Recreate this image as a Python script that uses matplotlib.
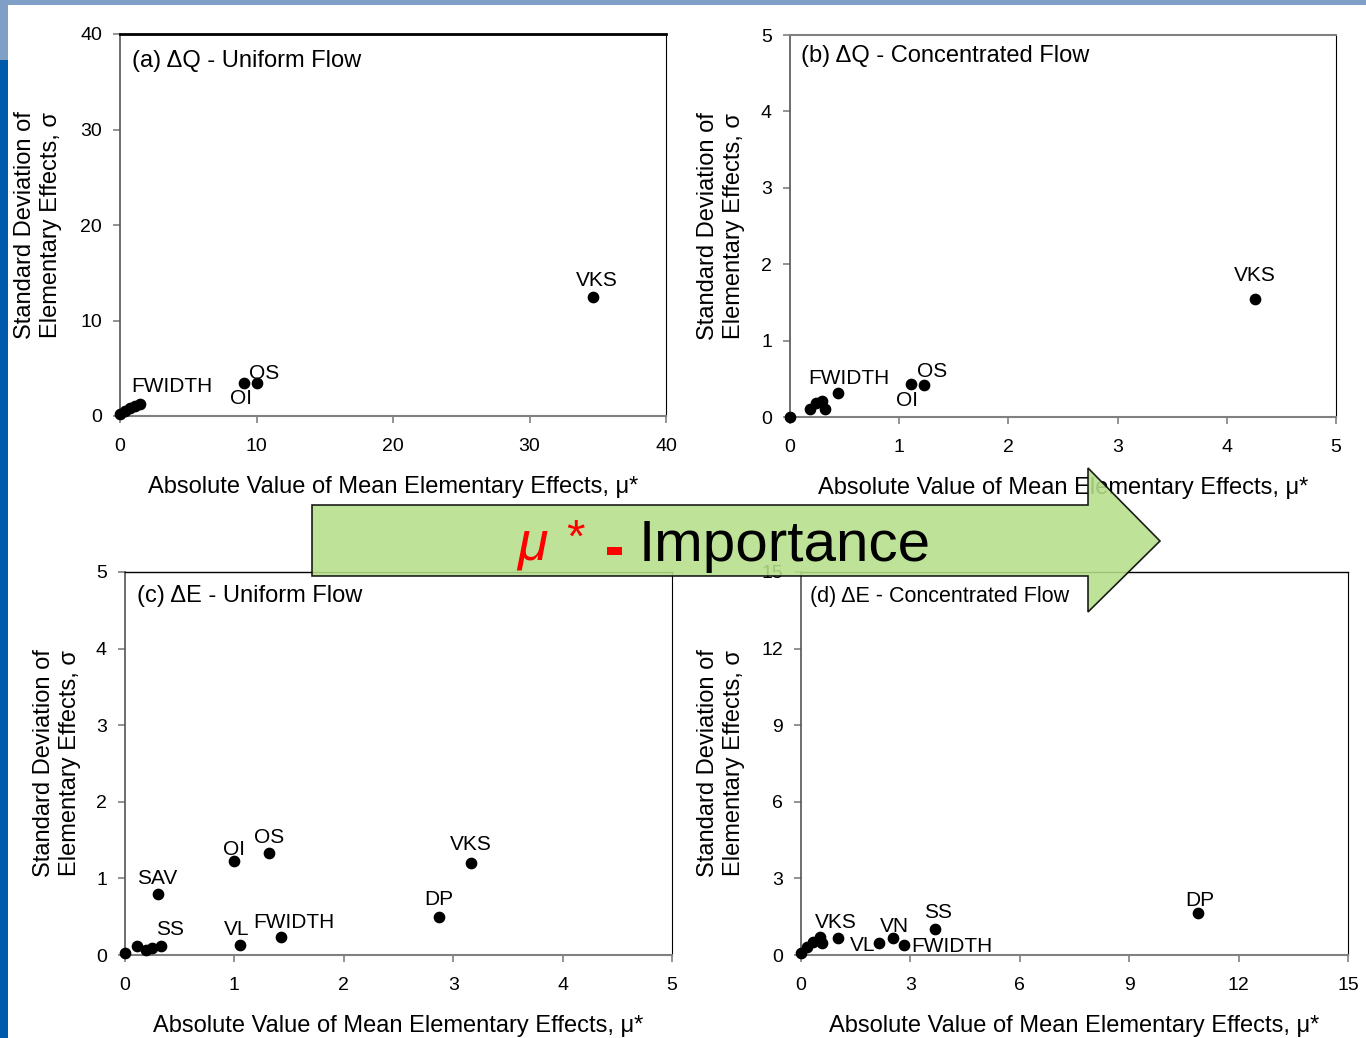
import matplotlib
matplotlib.use("Agg")
import matplotlib.pyplot as plt
from matplotlib.patches import Polygon, Rectangle

plt.rcParams['font.family'] = ['Liberation Sans', 'DejaVu Sans']

# ---------------- data ----------------
# (a) dQ - Uniform Flow
a_x = [0.0, 0.4, 0.75, 1.1, 1.45, 9.1, 10.0, 34.65]
a_y = [0.2, 0.55, 0.85, 1.05, 1.25, 3.46, 3.46, 12.46]
a_lab = ["FWIDTH", "OI", "OS", "VKS"]
a_lab_x = [3.81, 8.86, 10.55, 34.95]
a_lab_y = [3.14, 1.88, 4.5, 14.24]

# (b) dQ - Concentrated Flow
b_x = [0.0, 0.18, 0.24, 0.29, 0.32, 0.44, 1.11, 1.23, 4.26]
b_y = [0.0, 0.11, 0.18, 0.21, 0.10, 0.32, 0.43, 0.42, 1.54]
b_lab = ["FWIDTH", "OI", "OS", "VKS"]
b_lab_x = [0.54, 1.07, 1.30, 4.26]
b_lab_y = [0.51, 0.21, 0.60, 1.85]

# (c) dE - Uniform Flow
c_x = [0.0, 0.11, 0.19, 0.25, 0.33, 0.30, 1.0, 1.32, 1.05, 1.43, 2.87, 3.16]
c_y = [0.02, 0.12, 0.07, 0.09, 0.12, 0.80, 1.23, 1.33, 0.13, 0.23, 0.50, 1.20]
c_lab = ["SAV", "SS", "OI", "OS", "VL", "FWIDTH", "DP", "VKS"]
c_lab_x = [0.29, 0.41, 1.0, 1.32, 1.02, 1.54, 2.87, 3.16]
c_lab_y = [1.0, 0.33, 1.38, 1.54, 0.33, 0.42, 0.72, 1.44]

# (d) dE - Concentrated Flow
d_x = [0.0, 0.16, 0.34, 0.52, 0.57, 1.02, 2.14, 2.53, 2.82, 3.67, 10.89]
d_y = [0.07, 0.33, 0.52, 0.72, 0.46, 0.65, 0.46, 0.65, 0.39, 1.02, 1.65]
d_lab = ["VKS", "VL", "VN", "FWIDTH", "SS", "DP"]
d_lab_x = [0.96, 1.70, 2.55, 4.14, 3.76, 10.94]
d_lab_y = [1.29, 0.39, 1.10, 0.35, 1.65, 2.15]

titles = ["(a) \u0394Q - Uniform Flow", "(b) \u0394Q - Concentrated Flow",
          "(c) \u0394E - Uniform Flow", "(d) \u0394E - Concentrated Flow"]
xlabel = "Absolute Value of Mean Elementary Effects, \u03bc*"
ylabel = "Standard Deviation of\nElementary Effects, \u03c3"

# ---------------- figure ----------------
W, H = 1366, 1038
fig = plt.figure(figsize=(W / 100, H / 100), dpi=100)
fig.patch.set_facecolor("white")

# slide decorations
fig.patches.append(Rectangle((0, 1 - 5 / H), 1, 5 / H, transform=fig.transFigure,
                             facecolor="#7f9fc6", edgecolor="none", zorder=-5))
fig.patches.append(Rectangle((0, 1 - 60 / H), 8 / W, 60 / H, transform=fig.transFigure,
                             facecolor="#7f9fc6", edgecolor="none", zorder=-5))
fig.patches.append(Rectangle((0, 0), 8 / W, 1 - 60 / H, transform=fig.transFigure,
                             facecolor="#0059aa", edgecolor="none", zorder=-5))


def px_axes(l, r, t, b):
    return [l / W, 1 - b / H, (r - l) / W, (b - t) / H]


panels = [
    dict(rect=px_axes(120, 666, 34, 416), x=a_x, y=a_y, lab=a_lab, lx=a_lab_x, ly=a_lab_y,
         lim=40, step=10, title=titles[0], tpos=(0.022, 0.929), tsize=17,
         ylc=-0.150, topcol="black", toplw=2.0),
    dict(rect=px_axes(790, 1336, 35, 417), x=b_x, y=b_y, lab=b_lab, lx=b_lab_x, ly=b_lab_y,
         lim=5, step=1, title=titles[1], tpos=(0.020, 0.945), tsize=17,
         ylc=-0.126, topcol="#808080", toplw=1.5),
    dict(rect=px_axes(125, 672, 572, 955), x=c_x, y=c_y, lab=c_lab, lx=c_lab_x, ly=c_lab_y,
         lim=5, step=1, title=titles[2], tpos=(0.022, 0.937), tsize=17,
         ylc=-0.124, topcol="black", toplw=1.0),
    dict(rect=px_axes(801, 1348, 572, 955), x=d_x, y=d_y, lab=d_lab, lx=d_lab_x, ly=d_lab_y,
         lim=15, step=3, title=titles[3], tpos=(0.016, 0.935), tsize=15.5,
         ylc=-0.146, topcol="black", toplw=1.0),
]

for p in panels:
    ax = fig.add_axes(p["rect"])
    ax.set_facecolor("white")
    ax.scatter(p["x"], p["y"], s=55, color="black", zorder=3, clip_on=False)
    for t, tx, ty in zip(p["lab"], p["lx"], p["ly"]):
        ax.text(tx, ty, t, ha="center", va="center", fontsize=15, color="black")
    ticks = list(range(0, p["lim"] + 1, p["step"]))
    ax.set_xlim(0, p["lim"])
    ax.set_ylim(0, p["lim"])
    ax.set_xticks(ticks)
    ax.set_yticks(ticks)
    ax.tick_params(axis="both", direction="out", length=5, width=1.2, color="#808080",
                   labelsize=14, labelcolor="black")
    ax.tick_params(axis="x", pad=11)
    ax.tick_params(axis="y", pad=8)
    ax.spines["left"].set_color("#555555")
    ax.spines["left"].set_linewidth(1.2)
    ax.spines["bottom"].set_color("#808080")
    ax.spines["bottom"].set_linewidth(1.5)
    ax.spines["top"].set_color(p["topcol"])
    ax.spines["top"].set_linewidth(p["toplw"])
    ax.spines["right"].set_color("black")
    ax.spines["right"].set_linewidth(0.8)
    ax.text(p["tpos"][0], p["tpos"][1], p["title"], transform=ax.transAxes,
            ha="left", va="center", fontsize=p["tsize"])
    ax.text(0.5, -0.186, xlabel, transform=ax.transAxes, ha="center", va="center",
            fontsize=17)
    ax.text(p["ylc"], 0.5, ylabel, transform=ax.transAxes, ha="center", va="center",
            rotation=90, fontsize=17, linespacing=1.25)

# ---------------- importance arrow (overlay) ----------------
ov = fig.add_axes([0, 0, 1, 1], zorder=10)
ov.set_xlim(0, W)
ov.set_ylim(H, 0)
ov.axis("off")
ov.patch.set_alpha(0)
arrow = Polygon([(312, 505), (1088, 505), (1088, 468), (1160, 541), (1088, 612),
                 (1088, 576), (312, 576)], closed=True, facecolor="#b5df8a",
                edgecolor="black", linewidth=1.2, alpha=0.88)
ov.add_patch(arrow)
ov.text(532, 546, "\u03bc", color="#ff0000", fontsize=40, style="italic",
        ha="center", va="center")
ov.text(575, 540, "*", color="#ff0000", fontsize=34, ha="center", va="center")
ov.add_patch(Rectangle((607, 547), 15, 8, facecolor="#ff0000", edgecolor="none"))
ov.text(785, 546, "Importance", color="black", fontsize=42, ha="center", va="center")

fig.savefig("out.png", dpi=100, facecolor="white")
